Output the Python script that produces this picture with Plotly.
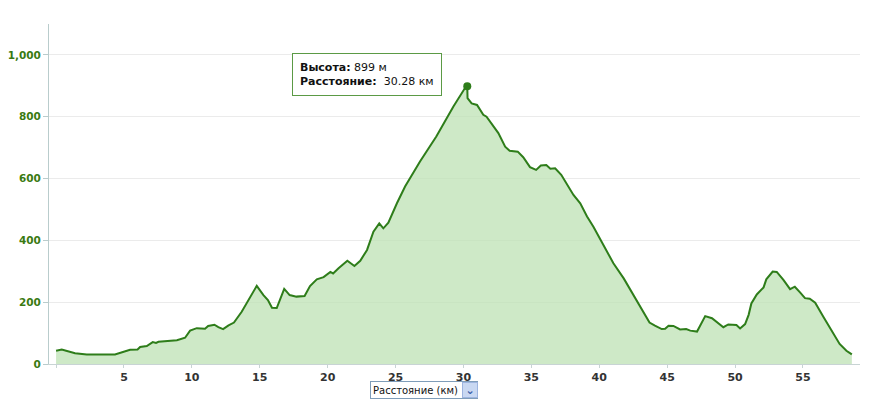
import plotly.graph_objects as go

# elevation profile: distance (km) vs height (m)
distance_km = [0.0, 0.42, 1.4, 2.26, 4.34, 4.84, 5.45, 6.0, 6.19, 6.68, 7.12, 7.36, 7.54,
               8.9, 9.5, 9.87, 10.36, 10.97, 11.2, 11.66, 11.95, 12.3, 12.7, 13.1, 13.67,
               14.78, 15.27, 15.6, 15.9, 16.25, 16.8, 17.2, 17.7, 18.3, 18.7, 19.2, 19.7,
               20.2, 20.4, 20.8, 21.45, 21.97, 22.4, 22.9, 23.37, 23.8, 24.1, 24.47, 25.1,
               25.7, 26.8, 28.0, 29.26, 30.1, 30.28, 30.3, 30.6, 31.0, 31.46, 31.7, 32.2,
               32.57, 33.07, 33.4, 34.0, 34.4, 34.9, 35.35, 35.7, 36.1, 36.4, 36.75, 37.2,
               38.1, 38.6, 39.1, 39.57, 40.3, 41.04, 41.8, 42.6, 43.25, 43.7, 44.1, 44.6,
               44.85, 45.1, 45.46, 45.95, 46.4, 46.7, 47.2, 47.8, 48.3, 48.65, 49.14, 49.5,
               50.1, 50.37, 50.74, 51.0, 51.2, 51.6, 51.96, 52.1, 52.3, 52.77, 53.07, 53.56,
               54.05, 54.4, 54.8, 55.15, 55.5, 55.9, 56.5, 57.2, 57.7, 58.2, 58.6]
elevation_m = [43, 47, 35, 31, 31, 37, 46, 47, 55, 58, 71, 68, 72,
               77, 85, 108, 116, 114, 123, 127, 119, 113, 125, 134, 169,
               253, 223, 207, 182, 181, 243, 223, 218, 220, 252, 274, 281,
               298, 293, 310, 334, 317, 334, 369, 428, 455, 439, 457, 520,
               574, 655, 736, 833, 892, 899, 860, 843, 838, 806, 800, 768,
               747, 703, 690, 687, 669, 637, 628, 642, 644, 632, 633, 612,
               547, 520, 477, 444, 385, 326, 277, 218, 169, 134, 124, 113,
               114, 124, 123, 112, 113, 108, 105, 155, 148, 137, 119, 128,
               126, 115, 129, 159, 196, 225, 242, 248, 274, 299, 298, 272,
               242, 250, 231, 213, 211, 198, 153, 99, 65, 43, 31]

x_ticks = [0, 5, 10, 15, 20, 25, 30, 35, 40, 45, 50, 55]
x_tick_labels = ["", "5", "10", "15", "20", "25", "30", "35", "40", "45", "50", "55"]
y_ticks = [0, 200, 400, 600, 800, 1000]

peak_km = 30.28
peak_m = 899
x_title = "Расстояние (км)"

green = "#2e7d1a"
font = "DejaVu Sans"

fig = go.Figure()

fig.add_trace(go.Scatter(
    x=distance_km, y=elevation_m,
    mode="lines",
    line=dict(color=green, width=2),
    fill="tozeroy",
    fillcolor="rgba(190,225,180,0.75)",
    hovertemplate="<b>Высота:</b> %{y} м<br><b>Расстояние:</b> %{x} км<extra></extra>",
    showlegend=False
))

fig.add_trace(go.Scatter(
    x=[peak_km], y=[peak_m],
    mode="markers",
    marker=dict(color=green, size=8),
    hoverinfo="skip",
    showlegend=False
))

# the tooltip box shown on the peak
fig.add_annotation(
    x=peak_km, y=peak_m,
    xref="x", yref="y",
    text="<b>Высота:</b> %d м<br><b>Расстояние:</b>  %.2f км" % (peak_m, peak_km),
    showarrow=False,
    xanchor="right", yanchor="middle",
    xshift=-25, yshift=12,
    align="left",
    font=dict(family=font, size=11, color="#111111"),
    bgcolor="white",
    bordercolor="#5b9a45",
    borderwidth=1,
    borderpad=7
)

# x-axis title drawn as a small selector box
fig.add_annotation(
    x=0.396, y=-0.0765, xref="paper", yref="paper",
    text=x_title,
    showarrow=False,
    xanchor="left", yanchor="middle",
    font=dict(family=font, size=10, color="#111111"),
    bgcolor="white",
    bordercolor="#7f9db9",
    borderwidth=1,
    borderpad=2,
    width=102, height=12, align="left"
)
fig.add_annotation(
    x=0.396, y=-0.0765, xref="paper", yref="paper",
    text="<b>⌄</b>",
    showarrow=False,
    xanchor="left", yanchor="middle",
    xshift=92,
    font=dict(family=font, size=11, color="#3a5fa8"),
    bgcolor="#c9d8f2",
    bordercolor="#9db4df",
    borderwidth=1,
    width=12, height=12
)

fig.update_xaxes(
    range=[-0.52, 59.2],
    tickvals=x_ticks, ticktext=x_tick_labels,
    ticks="outside", ticklen=3, tickcolor="#c8d4d4",
    tickfont=dict(family=font, size=11, color="#333333", weight="bold"),
    showgrid=False, zeroline=False, automargin=False,
    showline=True, linecolor="#c8d4d4", linewidth=1
)
fig.update_yaxes(
    range=[0, 1100],
    tickvals=y_ticks, tickformat=",d",
    ticks="outside", ticklen=5, tickcolor="#b9cccc",
    tickfont=dict(family=font, size=10.5, color="#3a7a12", weight="bold"),
    showgrid=True, gridcolor="#ebebeb", gridwidth=1,
    zeroline=False, automargin=False,
    showline=True, linecolor="#b9cccc", linewidth=1
)

# the page body adds an 8px offset, so the figure is a little smaller
fig.update_layout(
    width=862, height=394,
    margin=dict(l=41, r=10, t=16, b=38, autoexpand=False),
    paper_bgcolor="white",
    plot_bgcolor="white",
    hovermode="closest"
)

fig.write_html("out.html")
